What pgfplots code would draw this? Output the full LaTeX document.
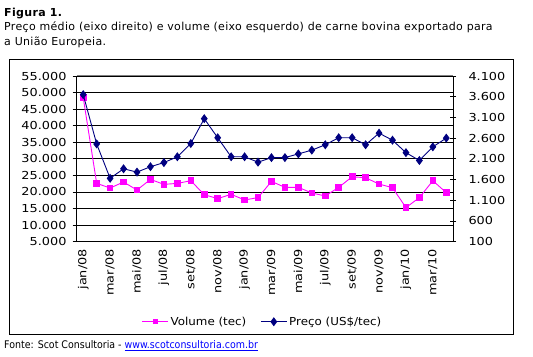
\documentclass[border=0pt]{standalone}
\usepackage{fontspec}
\setmainfont{DejaVu Sans}
\newfontfamily\titlefont[LetterSpace=3]{DejaVu Sans}
\newfontfamily\footfont[FakeStretch=0.9]{DejaVu Sans}
\newfontfamily\tickfont[FakeStretch=1.17]{DejaVu Sans}
\newfontfamily\legfont[FakeStretch=1.08]{DejaVu Sans}
\usepackage{pgfplots}
\usepackage{pgfplotstable}
\pgfplotsset{compat=1.18}
\definecolor{navy}{RGB}{0,0,128}
\definecolor{mag}{RGB}{255,0,255}
\definecolor{urlblue}{RGB}{0,0,255}

\pgfplotstableread{
i vol preco
0 48500 3650
1 22600 2460
2 21200 1630
3 23000 1860
4 20600 1780
5 23800 1910
6 22300 2010
7 22600 2150
8 23400 2470
9 19200 3070
10 18000 2610
11 19300 2150
12 17600 2150
13 18300 2020
14 23200 2130
15 21400 2130
16 21400 2220
17 19700 2310
18 18800 2440
19 21400 2610
20 24600 2610
21 24300 2440
22 22400 2720
23 21300 2550
24 15300 2250
25 18300 2060
26 23400 2390
27 19800 2600
}\data

\begin{document}
\begin{tikzpicture}[x=1bp,y=1bp]
\path[use as bounding box] (0,0) rectangle (533,356);
\draw[line width=1bp] (9.3,21.7) rectangle (513,296.7);
\node[anchor=base west, inner sep=0pt, font=\titlefont\bfseries\fontsize{11bp}{13bp}\selectfont] at (4,340) {Figura 1.};
\node[anchor=base west, inner sep=0pt, font=\titlefont\fontsize{11bp}{13bp}\selectfont] at (4,325.3) {Preço médio (eixo direito) e volume (eixo esquerdo) de carne bovina exportado para};
\node[anchor=base west, inner sep=0pt, font=\titlefont\fontsize{11bp}{13bp}\selectfont] at (4,310.7) {a União Europeia.};
\node[anchor=base west, inner sep=0pt, font=\footfont\fontsize{10.5bp}{12bp}\selectfont] at (4,7.7) {Fonte: Scot Consultoria - \textcolor{urlblue}{\underline{www.scotconsultoria.com.br}}};

\begin{axis}[
  scale only axis, width=376.5bp, height=165.7bp,
  at={(76.5bp,114.3bp)}, anchor=south west,
  xmin=-0.5, xmax=27.5, ymin=5000, ymax=55000,
  axis x line*=bottom, axis y line*=left,
  axis line style={black, line width=0.9bp},
  tick align=outside,
  ytick={5000,10000,...,55000},
  ymajorgrids, grid style={black, line width=0.9bp},
  xtick={0,2,...,26},
  xticklabels={jan/08,mar/08,mai/08,jul/08,set/08,nov/08,jan/09,mar/09,mai/09,jul/09,set/09,nov/09,jan/10,mar/10},
  x tick style={draw=none},
  minor xtick={-0.5,0.5,...,27.5},
  minor tick length=5bp, major tick length=4bp,
  tick style={black, line width=0.9bp},
  xticklabel style={rotate=90, anchor=east},
  yticklabel style={xshift=-2.5bp},
  ticklabel style={font=\tickfont\fontsize{11bp}{13bp}\selectfont},
  /pgf/number format/assume math mode=true,
  /pgf/number format/1000 sep={.},
  scaled y ticks=false,
  clip=false,
]
\addplot[mag, line width=0.9bp, mark=square*, mark size=2.8bp, mark options={solid}] table[x=i, y=vol] {\data};
\draw[gray, line width=1bp] (rel axis cs:0,1) -- (rel axis cs:1,1);
\end{axis}

\begin{axis}[
  scale only axis, width=376.5bp, height=165.7bp,
  at={(76.5bp,114.3bp)}, anchor=south west,
  xmin=-0.5, xmax=27.5, ymin=100, ymax=4100,
  axis x line=none, axis y line*=right,
  axis line style={black, line width=0.9bp},
  tick align=center, major tick length=6bp,
  tick style={black, line width=0.9bp},
  ytick={100,600,...,4100},
  yticklabel style={anchor=west, xshift=9bp},
  ticklabel style={font=\tickfont\fontsize{11bp}{13bp}\selectfont},
  /pgf/number format/assume math mode=true,
  /pgf/number format/1000 sep={.},
  scaled y ticks=false,
  legend style={draw=none, fill=none, at={(0.494,-0.483)}, anchor=center,
    font=\legfont\fontsize{11bp}{13bp}\selectfont,
    /tikz/every even column/.append style={column sep=12bp}},
  legend columns=2,
  legend image code/.code={\draw[mark repeat=2, mark phase=2, #1] plot coordinates {(0bp,0bp) (13bp,0bp) (26bp,0bp)};},
  clip=false,
]
\addlegendimage{mag, line width=0.9bp, mark=square*, mark size=2bp, mark options={solid}}
\addlegendentry{Volume (tec)}
\addplot[navy, line width=0.9bp, mark=diamond*, mark size=3.8bp, mark options={solid}] table[x=i, y=preco] {\data};
\addlegendentry{Preço (US\$/tec)}
\end{axis}
\end{tikzpicture}
\end{document}
